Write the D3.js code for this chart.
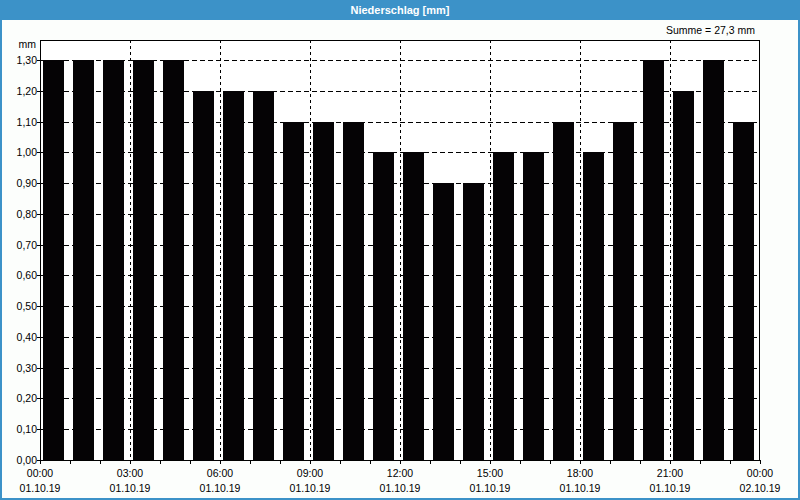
<!DOCTYPE html>
<html><head><meta charset="utf-8">
<script src="https://cdn.jsdelivr.net/npm/d3@7/dist/d3.min.js"></script>
<style>
html,body{margin:0;padding:0;background:#fff;}
text{font-family:"Liberation Sans",Arial,sans-serif;}
</style></head>
<body><svg id="c" width="800" height="500"></svg>
<script>
const hours = d3.range(24);
const values = [1.3,1.3,1.3,1.3,1.3,1.2,1.2,1.2,1.1,1.1,1.1,1.0,1.0,0.9,0.9,1.0,1.0,1.1,1.0,1.1,1.3,1.2,1.3,1.1];
const yTicks = [0,0.1,0.2,0.3,0.4,0.5,0.6,0.7,0.8,0.9,1.0,1.1,1.2,1.3];
const xTickHours = [0,3,6,9,12,15,18,21,24];
const xTimeLabels = ["00:00","03:00","06:00","09:00","12:00","15:00","18:00","21:00","00:00"];
const xDateLabels = ["01.10.19","01.10.19","01.10.19","01.10.19","01.10.19","01.10.19","01.10.19","01.10.19","02.10.19"];
const title = "Niederschlag [mm]";
const unit = "mm";
const sumText = "Summe = 27,3 mm";

const svg = d3.select("#c");
const W=800,H=500;
const L=40,R=760,T=40,B=460;
svg.append("rect").attr("width",W).attr("height",H).attr("fill","#3c92c8");
svg.append("rect").attr("x",2).attr("y",20).attr("width",W-4).attr("height",H-22).attr("fill","#fcfefc");
svg.append("text").attr("x",W/2).attr("y",14).attr("text-anchor","middle").attr("fill","#fff")
  .attr("font-size",11).attr("font-weight","bold").text(title);
svg.append("text").attr("x",755).attr("y",34).attr("text-anchor","end").attr("font-size",10.5).attr("fill","#000").text(sumText);
svg.append("text").attr("x",36).attr("y",48).attr("text-anchor","end").attr("font-size",10.5).attr("fill","#000").text(unit);

const x = d3.scaleLinear().domain([0,24]).range([L,R]);
const y = d3.scaleLinear().domain([0,1.365]).range([B,T]);
const fmt = d=>d3.format(".2f")(d).replace(".",",");

svg.append("rect").attr("x",L).attr("y",T).attr("width",R-L).attr("height",B-T).attr("fill","#fff");

const g = svg.append("g");
g.selectAll("line.h").data(yTicks.filter(d=>d>0)).join("line")
  .attr("x1",L).attr("x2",R).attr("y1",d=>Math.round(y(d))+0.5).attr("y2",d=>Math.round(y(d))+0.5)
  .attr("stroke","#000").attr("stroke-dasharray","5,3");
g.selectAll("line.v").data(xTickHours.slice(1,-1)).join("line")
  .attr("x1",d=>x(d)+0.5).attr("x2",d=>x(d)+0.5).attr("y1",T).attr("y2",B)
  .attr("stroke","#000").attr("stroke-dasharray","3,3");

svg.append("g").selectAll("rect").data(hours).join("rect")
  .attr("x",i=>x(i)+3).attr("width",21)
  .attr("y",i=>Math.round(y(values[i]))).attr("height",i=>B-Math.round(y(values[i])))
  .attr("fill","#050305");

svg.append("rect").attr("x",L+0.5).attr("y",T+0.5).attr("width",R-L-1).attr("height",B-T).attr("fill","none").attr("stroke","#000");

const ya = svg.append("g");
ya.selectAll("line").data(yTicks).join("line")
  .attr("x1",L-3).attr("x2",L).attr("y1",d=>Math.round(y(d))+0.5).attr("y2",d=>Math.round(y(d))+0.5).attr("stroke","#000");
ya.selectAll("text").data(yTicks).join("text")
  .attr("x",L-3).attr("y",d=>Math.round(y(d))+4).attr("text-anchor","end").attr("font-size",10.5).attr("fill","#000").text(fmt);

const xa = svg.append("g");
xa.selectAll("line").data(d3.range(25)).join("line")
  .attr("x1",d=>x(d)+0.5).attr("x2",d=>x(d)+0.5).attr("y1",B).attr("y2",B+4).attr("stroke","#000");
xa.selectAll("text.t").data(xTickHours).join("text").attr("class","t")
  .attr("x",d=>x(d)).attr("y",477).attr("text-anchor","middle").attr("font-size",10.5).attr("fill","#000")
  .text((d,i)=>xTimeLabels[i]);
xa.selectAll("text.d").data(xTickHours).join("text").attr("class","d")
  .attr("x",d=>x(d)).attr("y",492).attr("text-anchor","middle").attr("font-size",10.5).attr("fill","#000")
  .text((d,i)=>xDateLabels[i]);
</script></body></html>
